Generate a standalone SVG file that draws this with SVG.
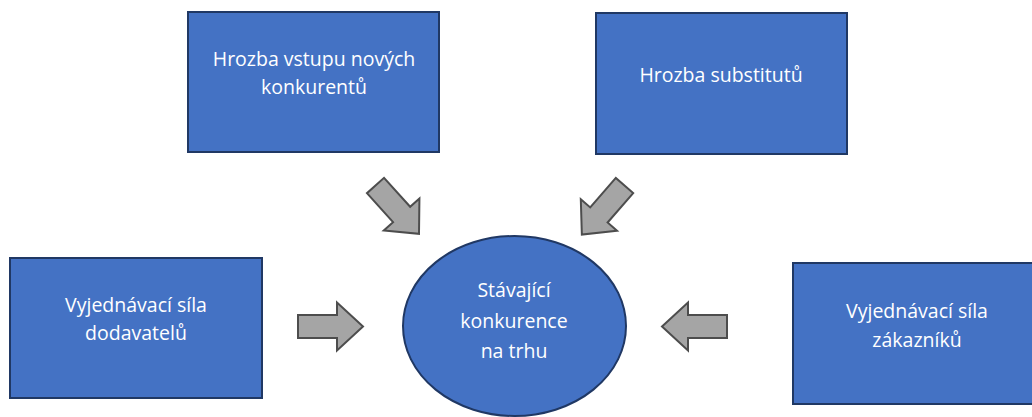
<svg xmlns="http://www.w3.org/2000/svg" width="1032" height="417" viewBox="0 0 1032 417">
<style>
.box{fill:#4472C4;stroke:#203864;stroke-width:2}
.lbl{font-family:"Open Sans","Liberation Sans",sans-serif;font-size:19.5px;fill:#FFFFFF;text-anchor:middle}
.arr{fill:#A5A5A5;stroke:#4D4D4D;stroke-width:2;stroke-linejoin:miter}
</style>
<defs>
<path id="arrowShape" d="M0,-11.5 L39,-11.5 L39,-24 L65,0 L39,24 L39,11.5 L0,11.5 Z"/>
</defs>
<rect width="1032" height="417" fill="#FFFFFF"/>
<g id="node-entrants">
<rect class="box" x="188" y="12" width="251" height="140"/>
<text class="lbl" x="314" y="66">Hrozba vstupu nových</text>
<text class="lbl" x="314" y="94">konkurentů</text>
</g>
<g id="node-substitutes">
<rect class="box" x="596" y="13" width="251" height="141"/>
<text class="lbl" x="721" y="82">Hrozba substitutů</text>
</g>
<g id="node-suppliers">
<rect class="box" x="10" y="258" width="252" height="140"/>
<text class="lbl" x="136" y="312">Vyjednávací síla</text>
<text class="lbl" x="136" y="340">dodavatelů</text>
</g>
<g id="node-customers">
<rect class="box" x="793" y="263" width="248" height="141"/>
<text class="lbl" x="917" y="318">Vyjednávací síla</text>
<text class="lbl" x="917" y="347">zákazníků</text>
</g>
<g id="node-rivalry">
<ellipse class="box" cx="514.5" cy="326" rx="111.5" ry="90"/>
<text class="lbl" x="514" y="297">Stávající</text>
<text class="lbl" x="514" y="328">konkurence</text>
<text class="lbl" x="514" y="358">na trhu</text>
</g>
<g id="connectors">
<use href="#arrowShape" class="arr" transform="translate(375.5,185.5) rotate(48)"/>
<use href="#arrowShape" class="arr" transform="translate(624.5,185.5) rotate(131)"/>
<use href="#arrowShape" class="arr" transform="translate(298,326.5)"/>
<use href="#arrowShape" class="arr" transform="translate(727,326.5) rotate(180)"/>
</g>
</svg>
